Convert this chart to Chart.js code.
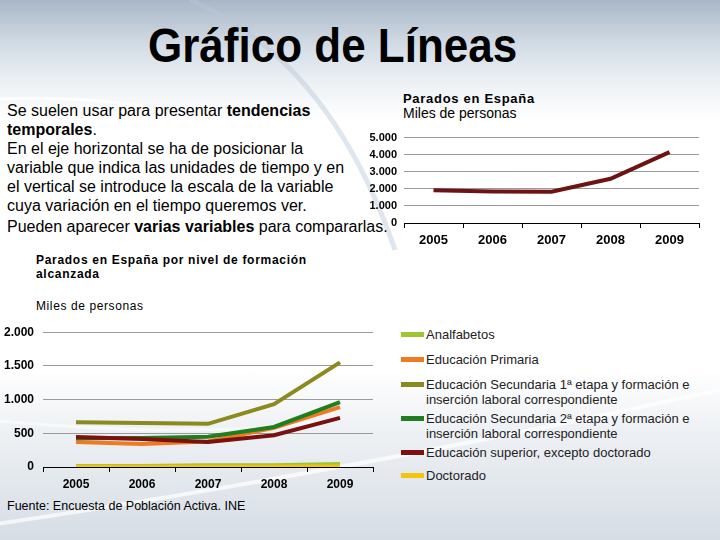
<!DOCTYPE html>
<html lang="es">
<head>
<meta charset="utf-8">
<title>Gráfico de Líneas</title>
<script src="https://cdn.jsdelivr.net/npm/chart.js@4.4.1/dist/chart.umd.min.js"></script>
<style>
  html, body { margin: 0; padding: 0; }
  body {
    width: 720px; height: 540px; overflow: hidden; position: relative;
    font-family: 'Liberation Sans', Arial, sans-serif; color: #000;
    background: linear-gradient(to bottom, #a8b7c7 0px, #d3dce5 45px, #eef2f5 85px, #ffffff 120px, #ffffff 370px, #eef1f4 430px, #d6dde5 540px);
  }
  #deco { position: absolute; left: 0; top: 0; }
  .abs { position: absolute; white-space: nowrap; }
  #title { left: 148px; top: 25px; font-size: 44px; font-weight: bold; line-height: 44px; transform: scaleY(1.08); transform-origin: 0 37px; }
  #intro { left: 7px; top: 102px; font-size: 16px; line-height: 18.9px; }
  #intro2 { left: 7px; top: 217px; font-size: 16px; line-height: 19px; }
  .ctitle { font-size: 13px; font-weight: bold; letter-spacing: 0.7px; line-height: 15px; }
  .sub { font-size: 14px; line-height: 16px; }
  canvas { position: absolute; }
  #legend .item { position: absolute; left: 401px; width: 310px; font-size: 13px; line-height: 15.3px; color: #222; }
  #legend .sw { position: absolute; left: 0; top: 5px; width: 23px; height: 5px; }
  #legend .txt { margin-left: 25px; white-space: normal; width: 285px; }
</style>
</head>
<body>
<svg id="deco" width="720" height="540">
  <path d="M -20 100 Q 150 90 250 140" stroke="#ffffff" stroke-width="3" fill="none" opacity="0.8"/>
  <path d="M 190 0 Q 330 60 395 250" stroke="#b9c8d8" stroke-width="5" fill="none" opacity="0.45"/>
  <path d="M -10 525 Q 360 470 720 390" stroke="#ffffff" stroke-width="4" fill="none" opacity="0.7"/>
  <path d="M -10 420 Q 200 440 330 420" stroke="#ffffff" stroke-width="3" fill="none" opacity="0.5"/>
</svg>

<div id="title" class="abs">Gráfico de Líneas</div>

<div id="intro" class="abs">Se suelen usar para presentar <b>tendencias</b><br><b>temporales</b>.<br>En el eje horizontal se ha de posicionar la<br>variable que indica las unidades de tiempo y en<br>el vertical se introduce la escala de la variable<br>cuya variación en el tiempo queremos ver.</div>
<div id="intro2" class="abs">Pueden aparecer <b>varias variables</b> para compararlas.</div>

<div class="abs ctitle" style="left:403px; top:91px;">Parados en España</div>
<div class="abs sub" style="left:403px; top:105px;">Miles de personas</div>

<div class="abs" style="left:36px; top:254px; font-size:12px; font-weight:bold; letter-spacing:0.7px; line-height:13.5px;">Parados en España por nivel de formación<br>alcanzada</div>
<div class="abs" style="left:36px; top:300px; font-size:12px; letter-spacing:0.6px; line-height:13.5px;">Miles de personas</div>
<div class="abs" style="left:7px; top:499px; font-size:12.5px; line-height:14px;">Fuente: Encuesta de Población Activa. INE</div>

<canvas id="topChart" width="362" height="126" style="left:350px; top:124px;"></canvas>
<canvas id="bottomChart" width="380" height="178" style="left:0px; top:316px;"></canvas>

<div id="legend"></div>

<script>
// Data
const years = ['2005', '2006', '2007', '2008', '2009'];

const paradosTotal = [1913, 1837, 1834, 2590, 4150];
const topTicks = [0, 1000, 2000, 3000, 4000, 5000];
const topTickLabels = ['0', '1.000', '2.000', '3.000', '4.000', '5.000'];

const nivelNames = [
    'Analfabetos',
    'Educación Primaria',
    'Educación Secundaria 1ª etapa y formación e inserción laboral correspondiente',
    'Educación Secundaria 2ª etapa y formación e inserción laboral correspondiente',
    'Educación superior, excepto doctorado',
    'Doctorado'
];
const analfabetos = [15, 15, 25, 25, 45];
const primaria = [370, 340, 378, 580, 888];
const secundaria1 = [665, 652, 640, 932, 1552];
const secundaria2 = [428, 430, 450, 594, 962];
const superior = [445, 415, 372, 472, 728];
const doctorado = [5, 5, 5, 5, 8];
const bottomTicks = [0, 500, 1000, 1500, 2000];
const bottomTickLabels = ['0', '500', '1.000', '1.500', '2.000'];

const nivelColors = ['#9cc632', '#ee7a22', '#8a8a1e', '#1f7f1f', '#7a1010', '#f2c40c'];

// legend item tops (layout only)
const legendTops = [327, 352, 377, 411, 445, 468];

Chart.defaults.font.family = "'Liberation Sans', Arial, sans-serif";
Chart.defaults.color = '#000';

function makeOptions(cfg) {
    return {
        responsive: false,
        animation: false,
        layout: { padding: { top: 10, right: cfg.padRight, left: 0, bottom: 0 } },
        plugins: { legend: { display: false }, tooltip: { enabled: false } },
        elements: { point: { radius: 0 }, line: { tension: 0, borderCapStyle: 'butt' } },
        scales: {
            x: {
                offset: true,
                grid: { offset: true, drawOnChartArea: false, drawTicks: true, tickLength: 5, color: '#000' },
                border: { display: true, color: '#000', width: 1 },
                ticks: { font: { size: cfg.xFont, weight: 'bold' }, color: '#000', padding: 5, maxRotation: 0 },
                afterFit: (scale) => { scale.height = 27; }
            },
            y: {
                min: 0,
                max: cfg.max,
                grid: { color: '#9a9a9a', drawTicks: false, lineWidth: 1 },
                border: { display: false },
                afterBuildTicks: (axis) => { axis.ticks = cfg.ticks.map(v => ({ value: v })); },
                ticks: {
                    font: { size: cfg.yFont, weight: 'bold' },
                    color: '#000',
                    padding: cfg.yPad,
                    callback: (value, index) => cfg.tickLabels[index]
                },
                afterFit: (scale) => { scale.width = cfg.yWidth; }
            }
        }
    };
}

// Top chart: Parados en España
new Chart(document.getElementById('topChart'), {
    type: 'line',
    data: {
        labels: years,
        datasets: [{
            label: 'Parados en España',
            data: paradosTotal,
            borderColor: '#6d1313',
            borderWidth: 4
        }]
    },
    options: makeOptions({
        padRight: 13, max: 5000, ticks: topTicks, tickLabels: topTickLabels,
        xFont: 13, yFont: 11, yPad: 7, yWidth: 54
    })
});

// Bottom chart: por nivel de formación
const series = [analfabetos, primaria, secundaria1, secundaria2, superior, doctorado];
new Chart(document.getElementById('bottomChart'), {
    type: 'line',
    data: {
        labels: years,
        datasets: series.map((values, i) => ({
            label: nivelNames[i],
            data: values,
            borderColor: nivelColors[i],
            borderWidth: 4,
            order: series.length - i // later series on top, like the original
        }))
    },
    options: makeOptions({
        padRight: 7, max: 2000, ticks: bottomTicks, tickLabels: bottomTickLabels,
        xFont: 12, yFont: 12, yPad: 9, yWidth: 43
    })
});

// HTML legend for the bottom chart
const legend = document.getElementById('legend');
nivelNames.forEach((name, i) => {
    const item = document.createElement('div');
    item.className = 'item';
    item.style.top = legendTops[i] + 'px';

    const sw = document.createElement('div');
    sw.className = 'sw';
    sw.style.background = nivelColors[i];
    item.appendChild(sw);

    const txt = document.createElement('div');
    txt.className = 'txt';
    txt.textContent = name;
    item.appendChild(txt);

    legend.appendChild(item);
});
</script>
</body>
</html>
